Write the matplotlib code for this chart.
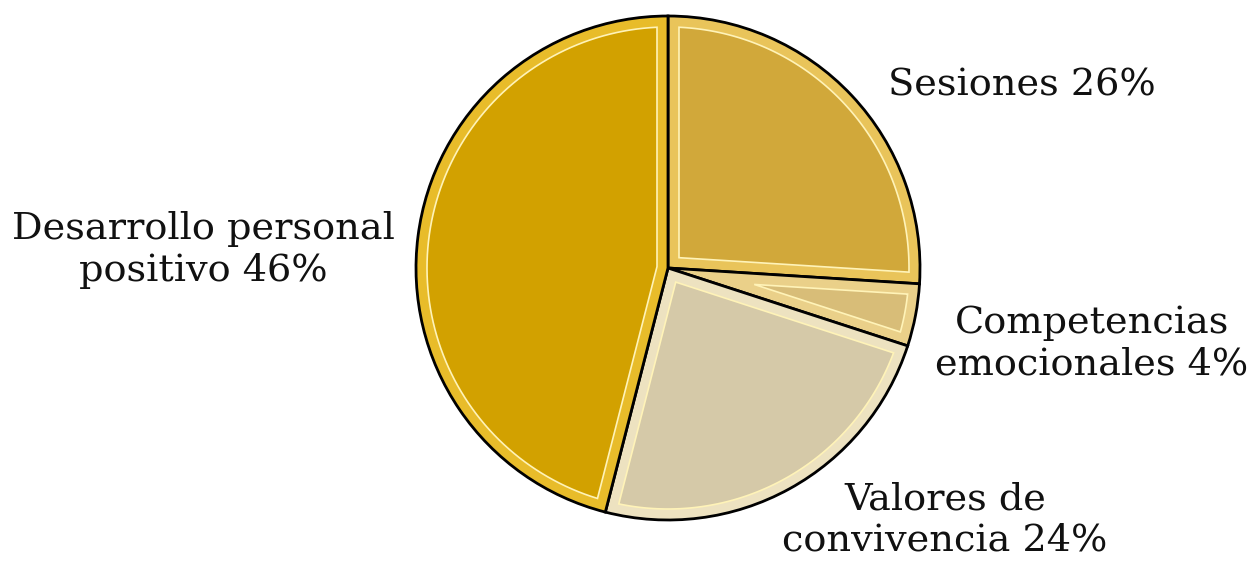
import numpy as np
import matplotlib
matplotlib.use("Agg")
import matplotlib.pyplot as plt
from matplotlib.patches import Polygon

categories = ["Sesiones", "Competencias\nemocionales", "Valores de\nconvivencia", "Desarrollo personal\npositivo"]
values = [26, 4, 24, 46]
colors = ["#D1A83A", "#D8BD78", "#D5C9A8", "#D2A100"]
band_colors = ["#E9C45A", "#EAD089", "#EDE2C0", "#E8BC2A"]

W, H = 1255, 565
fig = plt.figure(figsize=(W / 100, H / 100), dpi=100)
ax = fig.add_axes([0, 0, 1, 1])

cx, cy, R = 668, H - 268, 252
wedges, _ = ax.pie(values, colors=band_colors, startangle=90, counterclock=False,
                   center=(cx, cy), radius=R, frame=True,
                   wedgeprops=dict(edgecolor="black", linewidth=2))
ax.set_xlim(0, W)
ax.set_ylim(0, H)
ax.set_aspect("equal")
ax.axis("off")

d = 11
for w, col in zip(wedges, colors):
    t1, t2 = w.theta1, w.theta2
    a = np.radians((t2 - t1) / 2)
    phi = np.radians((t1 + t2) / 2)
    off = d / np.sin(a)
    apex = (cx + off * np.cos(phi), cy + off * np.sin(phi))
    delta = np.degrees(np.arcsin(d / (R - d)))
    th = np.radians(np.linspace(t1 + delta, t2 - delta, 100))
    pts = [apex] + [(cx + (R - d) * np.cos(t), cy + (R - d) * np.sin(t)) for t in th]
    ax.add_patch(Polygon(pts, closed=True, facecolor=col, edgecolor="#FFF3B8",
                         linewidth=1.2, zorder=3))

font = dict(family="DejaVu Serif", fontsize=27.5, color="#111111", ha="center", va="center",
            linespacing=1.2)
ax.text(1022, H - 85, f"{categories[0]} {values[0]}%", **font)
ax.text(1092, H - 344, f"{categories[1]} {values[1]}%", **font)
ax.text(945, H - 520, f"{categories[2]} {values[2]}%", **font)
ax.text(203, H - 250, f"{categories[3]} {values[3]}%", **font)

fig.savefig("out.png", dpi=100, facecolor="white")
